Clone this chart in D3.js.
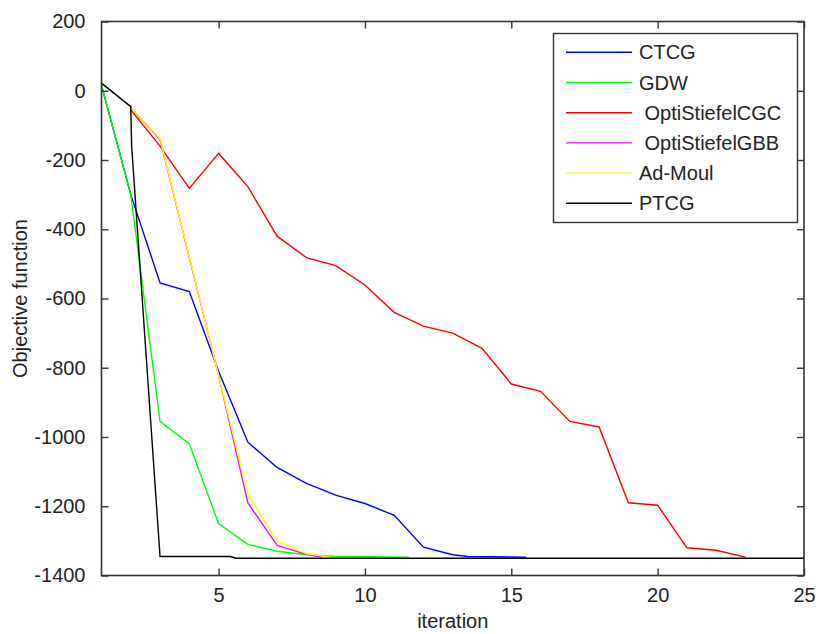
<!DOCTYPE html>
<meta charset="utf-8">
<style>
body { margin: 0; background: #fff; }
.chart text { font: 20px "Liberation Sans", Arial, sans-serif; fill: #222; }
</style>
<body>
<svg id="chart" class="chart" width="819" height="634"></svg>
</body>
<script src="https://cdnjs.cloudflare.com/ajax/libs/d3/7.8.5/d3.min.js"></script>
<script>
  const names = ['CTCG', 'GDW', ' OptiStiefelCGC', ' OptiStiefelGBB', 'Ad-Moul', 'PTCG']
  const colors = ['#0000ff', '#00ff00', '#ff0000', '#ff00ff', '#ffff00', '#000000']

  const ctcgIter = [1, 2, 3, 4, 5, 6, 7, 8, 9, 10, 11, 12, 13, 13.5, 15.5]
  const ctcgVal = [16, -300, -555, -580, -810, -1015, -1088, -1134, -1168, -1192, -1226, -1318, -1340, -1345, -1347]

  const gdwIter = [1, 2, 3, 4, 5, 6, 7, 8, 9, 10, 11.5]
  const gdwVal = [16, -300, -955, -1020, -1250, -1310, -1330, -1340, -1345, -1346, -1347]

  const cgcIter = [2, 3, 4, 5, 6, 7, 8, 9, 10, 11, 12, 13, 14, 15, 16, 17, 18, 19, 20, 21, 22, 23]
  const cgcVal = [-55, -160, -282, -181, -277, -420, -482, -505, -561, -640, -680, -700, -744, -847, -868, -955, -971, -1190, -1197, -1320, -1327, -1347]

  const gbbIter = [2, 3, 4, 5, 6, 7, 8, 8.5]
  const gbbVal = [-50, -140, -482, -822, -1190, -1313, -1339, -1347]

  const moulIter = [2, 3, 4, 5, 6, 7, 8, 8.8]
  const moulVal = [-50, -138, -480, -822, -1166, -1301, -1337, -1347]

  const ptcgIter = [1, 2, 2.03, 3, 5.4, 5.6, 25]
  const ptcgVal = [22, -46, -160, -1345, -1345, -1350, -1350]

  const xTicks = [5, 10, 15, 20, 25]
  const yTicks = [-1400, -1200, -1000, -800, -600, -400, -200, 0, 200]

  const series = [
    [ctcgIter, ctcgVal], [gdwIter, gdwVal], [cgcIter, cgcVal],
    [gbbIter, gbbVal], [moulIter, moulVal], [ptcgIter, ptcgVal]
  ]

  const [ pLeft, pRight, pTop, pBottom ] = [ 101.5, 804, 21.5, 575.5 ]

  const x = d3.scaleLinear().domain([1, 25]).range([pLeft, pRight])
  const y = d3.scaleLinear().domain([-1400, 200]).range([pBottom, pTop])

  const svg = d3.select('#chart')

  const line = d3.line().x(d => x(d[0])).y(d => y(d[1]))

  svg.selectAll('path.series')
      .data(series)
    .enter().append('path')
      .attr('class', 'series')
      .attr('fill', 'none')
      .attr('stroke', (d, i) => colors[i])
      .attr('stroke-width', 1.4)
      .attr('d', d => line(d3.zip(d[0], d[1])))

  // axes, ticks inside on all four sides
  const axisStyle = g => g.call(a => a.select('.domain').remove())
      .call(a => a.selectAll('.tick line').attr('stroke', '#333').attr('stroke-width', 1.4))
      .call(a => a.selectAll('.tick text').attr('fill', '#222').style('font', '20px "Liberation Sans", Arial, sans-serif'))

  const plain = d => String(d)

  svg.append('g')
      .attr('transform', `translate(0,${pBottom})`)
      .call(d3.axisBottom(x).tickValues(xTicks).tickFormat(plain).tickSizeInner(-7).tickSizeOuter(0).tickPadding(12))
      .call(axisStyle)
  svg.append('g')
      .attr('transform', `translate(0,${pTop})`)
      .call(d3.axisTop(x).tickValues(xTicks).tickSizeInner(-7).tickSizeOuter(0).tickFormat(''))
      .call(axisStyle)
  svg.append('g')
      .attr('transform', `translate(${pLeft},0)`)
      .call(d3.axisLeft(y).tickValues(yTicks).tickFormat(plain).tickSizeInner(-7).tickSizeOuter(0).tickPadding(16))
      .call(axisStyle)
  svg.append('g')
      .attr('transform', `translate(${pRight},0)`)
      .call(d3.axisRight(y).tickValues(yTicks).tickSizeInner(-7).tickSizeOuter(0).tickFormat(''))
      .call(axisStyle)

  svg.append('rect')
      .attr('x', pLeft).attr('y', pTop)
      .attr('width', pRight - pLeft).attr('height', pBottom - pTop)
      .attr('fill', 'none').attr('stroke', '#333').attr('stroke-width', 1.6)

  svg.append('text')
      .attr('x', (pLeft + pRight) / 2).attr('y', 628)
      .attr('text-anchor', 'middle')
      .text('iteration')

  svg.append('text')
      .attr('transform', `translate(27,${(pTop + pBottom) / 2}) rotate(-90)`)
      .attr('text-anchor', 'middle')
      .text('Objective function')

  // legend
  const legend = svg.append('g')
  legend.append('rect')
      .attr('x', 553.5).attr('y', 33.5).attr('width', 244).attr('height', 189)
      .attr('fill', '#fff').attr('stroke', '#333').attr('stroke-width', 1.4)

  const item = legend.selectAll('g.item')
      .data(names)
    .enter().append('g')
      .attr('class', 'item')
      .attr('transform', (d, i) => `translate(0,${52.3 + i * 30.2})`)

  item.append('line')
      .attr('x1', 566).attr('x2', 632)
      .attr('stroke', (d, i) => colors[i])
      .attr('stroke-width', 1.4)

  item.append('text')
      .attr('x', 639).attr('y', 7)
      .style('white-space', 'pre')
      .text(d => d)
</script>
